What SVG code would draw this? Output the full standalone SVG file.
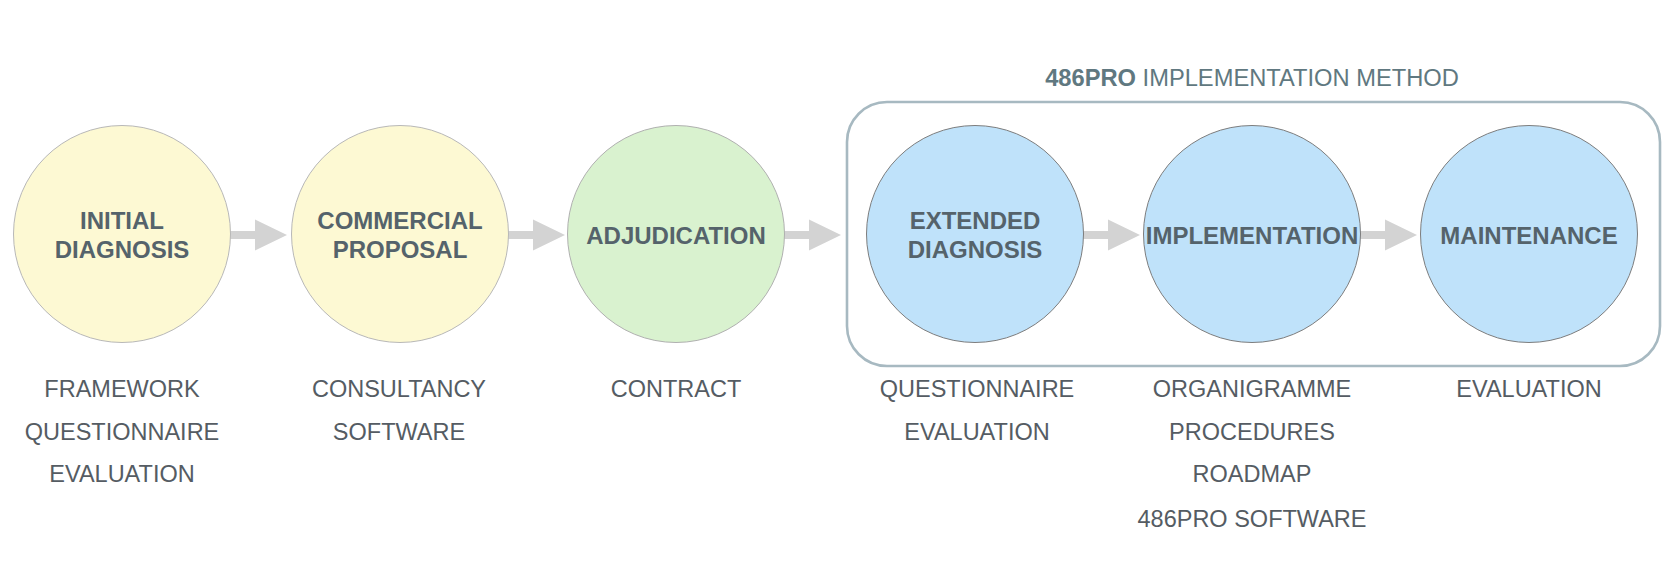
<svg xmlns="http://www.w3.org/2000/svg" width="1675" height="561" viewBox="0 0 1675 561">
<style>
.node-y{fill:#fdf9d3;stroke:#b8b8b8;stroke-width:1}
.node-g{fill:#d9f2cf;stroke:#b0b0b0;stroke-width:1}
.node-b{fill:#bfe2fa;stroke:#7d7d7d;stroke-width:1}
.in{font-family:"Liberation Sans",Arial,sans-serif;font-weight:bold;font-size:24px;fill:#55636b;text-anchor:middle}
.lb{font-family:"Liberation Sans",Arial,sans-serif;font-size:23.5px;fill:#555c63;text-anchor:middle}
.arrow{fill:#d3d3d3}
</style>
<defs>
<polygon id="arr" points="0,-4 25,-4 25,-15.5 57,0 25,15.5 25,4 0,4"/>
</defs>
<rect width="1675" height="561" fill="#ffffff"/>
<g id="group-method">
<rect x="847" y="102" width="813" height="264" rx="40" ry="40" fill="none" stroke="#a7b9c1" stroke-width="2.6"/>
<text x="1252" y="86" font-family="'Liberation Sans',Arial,sans-serif" font-size="23.7" fill="#607880" text-anchor="middle"><tspan font-weight="bold">486PRO</tspan> IMPLEMENTATION METHOD</text>
</g>
<g id="connectors" class="arrow">
<use href="#arr" x="230" y="235"/>
<use href="#arr" x="508" y="235"/>
<use href="#arr" x="784" y="235"/>
<use href="#arr" x="1083" y="235"/>
<use href="#arr" x="1360" y="235"/>
</g>
<g id="initial-diagnosis">
<circle class="node-y" cx="122" cy="234" r="108.5"/>
<text class="in" x="122" y="229">INITIAL</text>
<text class="in" x="122" y="258">DIAGNOSIS</text>
<text class="lb" x="122" y="397">FRAMEWORK</text>
<text class="lb" x="122" y="440">QUESTIONNAIRE</text>
<text class="lb" x="122" y="482">EVALUATION</text>
</g>
<g id="commercial-proposal">
<circle class="node-y" cx="400" cy="234" r="108.5"/>
<text class="in" x="400" y="229">COMMERCIAL</text>
<text class="in" x="400" y="258">PROPOSAL</text>
<text class="lb" x="399" y="397">CONSULTANCY</text>
<text class="lb" x="399" y="440">SOFTWARE</text>
</g>
<g id="adjudication">
<circle class="node-g" cx="676" cy="234" r="108.5"/>
<text class="in" x="676" y="244">ADJUDICATION</text>
<text class="lb" x="676" y="397">CONTRACT</text>
</g>
<g id="extended-diagnosis">
<circle class="node-b" cx="975" cy="234" r="108.5"/>
<text class="in" x="975" y="229">EXTENDED</text>
<text class="in" x="975" y="258">DIAGNOSIS</text>
<text class="lb" x="977" y="397">QUESTIONNAIRE</text>
<text class="lb" x="977" y="440">EVALUATION</text>
</g>
<g id="implementation">
<circle class="node-b" cx="1252" cy="234" r="108.5"/>
<text class="in" x="1252" y="244">IMPLEMENTATION</text>
<text class="lb" x="1252" y="397">ORGANIGRAMME</text>
<text class="lb" x="1252" y="440">PROCEDURES</text>
<text class="lb" x="1252" y="482">ROADMAP</text>
<text class="lb" x="1252" y="527">486PRO SOFTWARE</text>
</g>
<g id="maintenance">
<circle class="node-b" cx="1529" cy="234" r="108.5"/>
<text class="in" x="1529" y="244">MAINTENANCE</text>
<text class="lb" x="1529" y="397">EVALUATION</text>
</g>
</svg>
